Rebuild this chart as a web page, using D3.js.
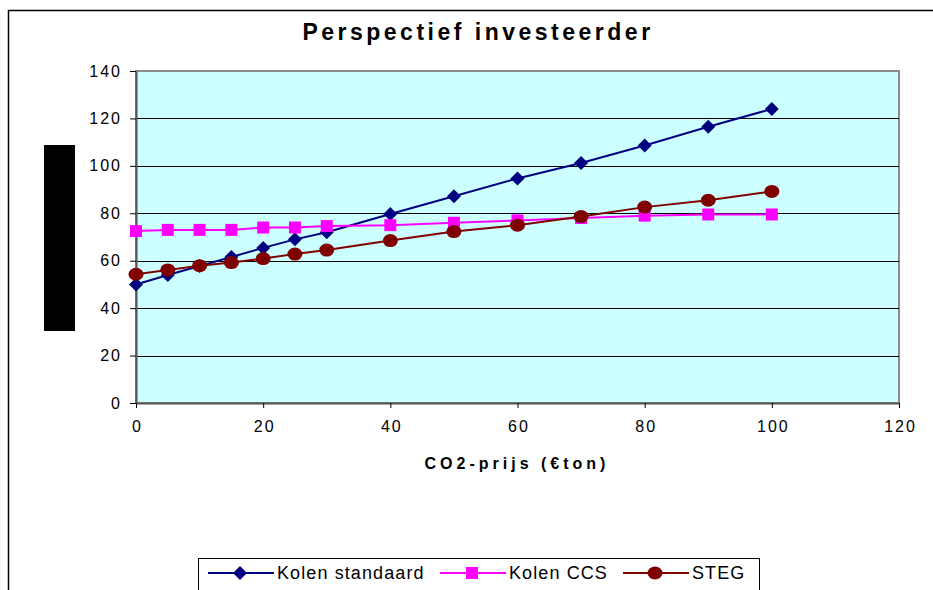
<!DOCTYPE html>
<html>
<head>
<meta charset="utf-8">
<script src="https://cdn.jsdelivr.net/npm/d3@7"></script>
<style>
  body { margin: 0; background: #fff; }
  svg { display: block; font-family: "Liberation Sans", Arial, sans-serif; }
</style>
</head>
<body>
<svg width="933" height="590"></svg>
<script>
// CO2-prijs (€/ton)
const co2Prices = [0, 5, 10, 15, 20, 25, 30, 40, 50, 60, 70, 80, 90, 100];
const kolenStandaard = [50, 54, 57.8, 61.6, 65.4, 69, 72, 79.7, 87.2, 94.7, 101.2, 108.6, 116.5, 124];
const kolenCCS = [72.5, 73, 73, 73, 74, 74, 74.6, 75, 76, 77, 78, 79, 79.5, 79.5];
const steg = [54.3, 56.1, 57.9, 59.2, 60.9, 62.8, 64.5, 68.5, 72.3, 75, 78.6, 82.6, 85.5, 89.2];
const xTicks = [0, 20, 40, 60, 80, 100, 120];
const yTicks = [0, 20, 40, 60, 80, 100, 120, 140];

const series = [
  { name: "Kolen standaard", values: kolenStandaard, color: "#000080", marker: "diamond" },
  { name: "Kolen CCS", values: kolenCCS, color: "#FF00FF", marker: "square" },
  { name: "STEG", values: steg, color: "#800000", marker: "circle" }
];

const svg = d3.select("svg");

const attrArea = { left: 136, right: 899, top: 71, bottom: 403 };

// outer chart border
svg.append("path")
  .attr("d", "M8.5,600 V10.5 H940")
  .attr("fill", "none")
  .attr("stroke", "#000")
  .attr("stroke-width", 1.5);

const scaleX = d3.scaleLinear().domain([0, 120]).range([attrArea.left, attrArea.right]);
const scaleY = d3.scaleLinear().domain([0, 140]).range([attrArea.bottom, attrArea.top]);

// plot area
svg.append("rect")
  .attr("x", attrArea.left)
  .attr("y", attrArea.top)
  .attr("width", attrArea.right - attrArea.left)
  .attr("height", attrArea.bottom - attrArea.top)
  .attr("fill", "#CCFFFF")
  .attr("stroke", "#8c8c8c")
  .attr("stroke-width", 2);

// gridlines
svg.append("g")
  .selectAll("line")
  .data(yTicks.filter(d => d > 0 && d < 140))
  .enter()
  .append("line")
  .attr("x1", attrArea.left)
  .attr("x2", attrArea.right)
  .attr("y1", d => Math.round(scaleY(d)) + 0.5)
  .attr("y2", d => Math.round(scaleY(d)) + 0.5)
  .attr("stroke", "#000")
  .attr("stroke-width", 1);

// axes
const axisX = d3.axisBottom(scaleX).tickValues(xTicks).tickSize(5).tickSizeOuter(0).tickPadding(13);
const axisY = d3.axisLeft(scaleY).tickValues(yTicks).tickSize(6).tickSizeOuter(0).tickPadding(8);

const gx = svg.append("g")
  .attr("transform", `translate(0, ${attrArea.bottom})`)
  .call(axisX);
const gy = svg.append("g")
  .attr("transform", `translate(${attrArea.left}, 0)`)
  .call(axisY);

[gx, gy].forEach(g => {
  g.select(".domain").attr("stroke", "#555").attr("stroke-width", 2);
  g.selectAll(".tick line").attr("stroke", "#000");
  g.selectAll("text")
    .attr("fill", "#000")
    .style("font-size", "16px")
    .style("letter-spacing", "2px")
    .style("font-family", "'Liberation Sans', Arial, sans-serif");
});
gx.selectAll("text").attr("dx", "1px");

// title
svg.append("text")
  .attr("x", 478)
  .attr("y", 40)
  .attr("text-anchor", "middle")
  .style("font-size", "23px")
  .style("font-weight", "bold")
  .style("letter-spacing", "3.5px")
  .text("Perspectief investeerder");

// x axis title
svg.append("text")
  .attr("x", 517)
  .attr("y", 469)
  .attr("text-anchor", "middle")
  .style("font-size", "16px")
  .style("font-weight", "bold")
  .style("letter-spacing", "4px")
  .text("CO2-prijs (€ton)");

// black box over the y axis title
svg.append("rect")
  .attr("x", 44)
  .attr("y", 145)
  .attr("width", 31)
  .attr("height", 186)
  .attr("fill", "#000");

function drawMarker(g, type, color, x, y) {
  if (type === "diamond") {
    g.append("path")
      .attr("d", `M${x},${y - 7} L${x + 7},${y} L${x},${y + 7} L${x - 7},${y} Z`)
      .attr("fill", color);
  } else if (type === "square") {
    g.append("rect")
      .attr("x", x - 6).attr("y", y - 6)
      .attr("width", 12).attr("height", 12)
      .attr("fill", color);
  } else {
    g.append("ellipse")
      .attr("cx", x).attr("cy", y)
      .attr("rx", 7.5).attr("ry", 6.5)
      .attr("fill", color);
  }
}

// lines and markers
const line = d3.line()
  .x((d, i) => scaleX(co2Prices[i]))
  .y(d => scaleY(d));

series.forEach(s => {
  svg.append("path")
    .datum(s.values)
    .attr("fill", "none")
    .attr("stroke", s.color)
    .attr("stroke-width", 2)
    .attr("d", line);
});
series.forEach(s => {
  const g = svg.append("g");
  s.values.forEach((v, i) => drawMarker(g, s.marker, s.color, scaleX(co2Prices[i]), scaleY(v)));
});

// legend
const legend = svg.append("g");
legend.append("rect")
  .attr("x", 198.5)
  .attr("y", 558.5)
  .attr("width", 561)
  .attr("height", 40)
  .attr("fill", "#fff")
  .attr("stroke", "#000")
  .attr("stroke-width", 1);

const legendX = [208, 440, 623];
series.forEach((s, i) => {
  const x0 = legendX[i];
  const ly = 573;
  legend.append("line")
    .attr("x1", x0).attr("x2", x0 + 66)
    .attr("y1", ly).attr("y2", ly)
    .attr("stroke", s.color)
    .attr("stroke-width", 2);
  drawMarker(legend, s.marker, s.color, x0 + 32, ly);
  legend.append("text")
    .attr("x", x0 + 69)
    .attr("y", ly + 6)
    .style("font-size", "18px")
    .style("letter-spacing", "1.1px")
    .text(s.name);
});
</script>
</body>
</html>
